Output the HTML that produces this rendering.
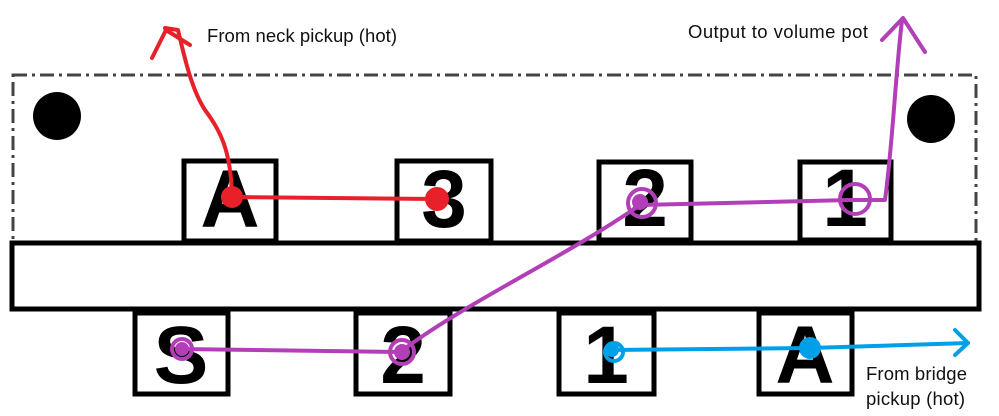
<!DOCTYPE html>
<html><head><style>
html,body{margin:0;padding:0;background:#fff;}
svg{display:block;}
text{font-family:"Liberation Sans",sans-serif;}
.t{font-size:18.5px;fill:#111;}
.g{font-size:82px;font-weight:bold;fill:#000;text-anchor:middle;}
</style></head><body>
<svg width="999" height="416" viewBox="0 0 999 416" xmlns="http://www.w3.org/2000/svg">
<rect x="13" y="75" width="963" height="168" fill="none" stroke="#444" stroke-width="3" stroke-dasharray="14,5,3,5"/>
<circle cx="57" cy="116" r="24" fill="#000"/>
<circle cx="931" cy="119" r="24" fill="#000"/>
<g fill="#fff" stroke="#000" stroke-width="5">
<rect x="184" y="161" width="92" height="80"/>
<rect x="397" y="161" width="94" height="80"/>
<rect x="599" y="162" width="92" height="78"/>
<rect x="800" y="162" width="91" height="78"/>
<rect x="12" y="243" width="967" height="66"/>
<rect x="135" y="313" width="93" height="81"/>
<rect x="356" y="313" width="94" height="81"/>
<rect x="559" y="313" width="95" height="81"/>
<rect x="759" y="313" width="93" height="81"/>
</g>
<text class="g" x="230" y="227">A</text>
<text class="g" x="444" y="227">3</text>
<text class="g" x="645" y="226">2</text>
<text class="g" x="845" y="226">1</text>
<text class="g" x="181" y="383">S</text>
<text class="g" x="403" y="383">2</text>
<text class="g" x="606" y="383">1</text>
<text class="g" x="805" y="383">A</text>
<g fill="none" stroke-linecap="round" stroke-linejoin="round" stroke-width="4">
<path d="M232 197 C231 150 220 130 205 110 C192 90 185 60 178 30 L165 28" stroke="#e8202a"/>
<path d="M152 58 L166 30 L190 45" stroke="#e8202a"/>
<path d="M232 197 L437 199" stroke="#e8202a"/>
<path d="M180 349 L400 352 C470 300 560 260 640 205 L850 200 L885 200 C893 140 895 80 902 20" stroke="#b33fb8"/>
<path d="M882 40 L903 18 L925 52" stroke="#b33fb8"/>
<circle cx="642" cy="203" r="14" stroke="#b33fb8"/>
<circle cx="855" cy="199" r="15" stroke="#b33fb8"/>
<circle cx="182" cy="349" r="10" stroke="#b33fb8"/>
<circle cx="402" cy="352" r="12" stroke="#b33fb8"/>
<path d="M610 350 L810 348 L968 343" stroke="#00a0e8"/>
<path d="M955 330 L968 343 L955 355" stroke="#00a0e8"/>
<circle cx="614" cy="352" r="9" stroke="#00a0e8"/>
</g>
<circle cx="232" cy="197" r="11" fill="#e8202a"/>
<circle cx="437" cy="199" r="12" fill="#e8202a"/>
<circle cx="640" cy="202" r="8" fill="#b33fb8"/>
<circle cx="402" cy="352" r="8" fill="#b33fb8"/>
<circle cx="182" cy="349" r="7" fill="#b33fb8"/>
<circle cx="810" cy="348" r="11" fill="#00a0e8"/>
<circle cx="612" cy="350" r="7" fill="#00a0e8"/>
<text class="t" x="207" y="42" textLength="190">From neck pickup (hot)</text>
<text class="t" x="688" y="38" textLength="180">Output to volume pot</text>
<text class="t" x="866" y="380" textLength="101">From bridge</text>
<text class="t" x="866" y="405" textLength="99">pickup (hot)</text>
</svg>
</body></html>
